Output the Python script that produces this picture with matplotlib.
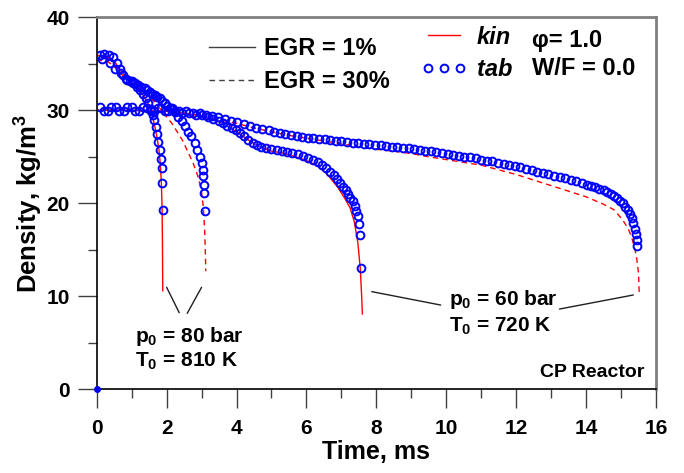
import matplotlib
matplotlib.use("Agg")
import matplotlib.pyplot as plt
from matplotlib.lines import Line2D
from matplotlib.ticker import MultipleLocator

plt.rcParams['font.family'] = ['Liberation Sans', 'DejaVu Sans']
plt.rcParams['font.weight'] = 'bold'
plt.rcParams['mathtext.fontset'] = 'custom'
plt.rcParams['mathtext.rm'] = 'Liberation Sans:bold'
plt.rcParams['mathtext.bf'] = 'Liberation Sans:bold'
plt.rcParams['mathtext.it'] = 'Liberation Sans:bold:italic'

# ---------------- data ----------------
# p0 = 80 bar, T0 = 810 K, EGR = 1 %  (kin: solid red, tab: circles)
kin80_1_t = [0, 0.3, 0.5, 0.7, 0.9, 1.1, 1.3, 1.45, 1.55, 1.65, 1.72, 1.78, 1.82, 1.85, 1.87, 1.88, 1.89]
kin80_1_v = [35.9, 35.8, 35.3, 34.2, 33.3, 32.6, 31.8, 30.9, 29.9, 28.5, 27.2, 25.8, 24.2, 22.2, 19.5, 16.0, 10.6]
tab80_1_t = [0.10, 0.22, 0.34, 0.46, 0.57, 0.67, 0.76, 0.86, 0.95, 1.05, 1.14, 1.24, 1.33, 1.41, 1.47,
             1.54, 1.60, 1.65, 1.69, 1.73, 1.76, 1.81, 1.84, 1.86, 1.87, 1.89]
tab80_1_v = [35.95, 36.0, 35.9, 35.75, 35.1, 34.4, 33.8, 33.3, 33.1, 32.9, 32.5, 32.2, 31.8, 31.3, 30.75,
             30.1, 29.5, 29.0, 28.2, 27.5, 26.6, 25.7, 24.8, 23.8, 22.2, 19.3]

# p0 = 80 bar, T0 = 810 K, EGR = 30 %  (kin: dashed red)
kin80_30_t = [0, 0.3, 0.5, 0.7, 0.9, 1.1, 1.3, 1.5, 1.7, 1.85, 2.0, 2.15, 2.3, 2.45, 2.6, 2.75,
              2.85, 2.92, 3.0, 3.05, 3.09, 3.11, 3.12]
kin80_30_v = [35.4, 35.3, 34.7, 33.9, 33.2, 32.7, 32.1, 31.5, 30.7, 30.0, 29.3, 28.6, 27.7, 26.8, 25.6, 24.4,
              23.4, 22.6, 21.2, 19.6, 17.0, 14.5, 12.7]
tab80_30_t = [0.16, 0.38, 0.52, 0.69, 0.84, 1.0, 1.10, 1.19, 1.28, 1.38, 1.45, 1.52, 1.59, 1.66, 1.73, 1.81,
              1.88, 1.95, 2.02, 2.09, 2.17, 2.24, 2.33, 2.43, 2.52, 2.62, 2.71, 2.81, 2.87, 2.95,
              3.0, 3.03, 3.05, 3.07, 3.08, 3.09]
tab80_30_v = [35.5, 35.05, 34.4, 34.0, 33.4, 33.1, 32.9, 32.7, 32.55, 32.4, 32.2, 32.0, 31.8, 31.6, 31.45, 31.3,
              31.0, 30.75, 30.5, 30.3, 30.1, 29.85, 29.3, 28.8, 28.3, 27.7, 27.2, 26.5, 25.7, 25.0,
              24.3, 23.6, 22.9, 22.0, 21.1, 19.2]

# p0 = 60 bar, T0 = 720 K, EGR = 1 %
kin60_1_t = [0, 1, 2, 2.5, 3, 3.5, 4, 4.3, 4.6, 5.0, 5.33, 5.7, 6.0, 6.29, 6.6, 6.9, 7.1, 7.25,
             7.37, 7.47, 7.54, 7.58, 7.6]
kin60_1_v = [30.0, 30.0, 29.9, 29.7, 29.4, 28.8, 27.7, 26.9, 26.2, 25.6, 25.4, 25.0, 24.6, 24.1, 23.1, 21.7, 20.5, 19.5,
             18.0, 15.8, 13.0, 10.0, 8.1]
tab60_1_t = [0.10, 0.32, 0.55, 0.78, 1.00, 1.22, 1.44, 1.65, 1.85, 2.05, 2.25, 2.45, 2.65, 2.85, 3.02,
             3.18, 3.34, 3.50, 3.62, 3.74, 3.86, 3.98, 4.10, 4.22, 4.34, 4.46, 4.58, 4.70, 4.85,
             5.00, 5.15, 5.30, 5.45, 5.60, 5.75, 5.90, 6.05, 6.20, 6.33, 6.45, 6.57, 6.68, 6.78,
             6.88, 6.97, 7.05, 7.12, 7.19, 7.26, 7.33, 7.39, 7.43, 7.47, 7.50, 7.54, 7.57]
tab60_1_v = [30.35, 29.95, 30.35, 29.95, 30.35, 29.95, 30.3, 29.95, 30.2, 29.9, 29.95, 29.75, 29.7, 29.5, 29.45,
             29.25, 29.1, 28.85, 28.6, 28.35, 28.1, 27.85, 27.6, 27.25, 26.85, 26.5, 26.25, 26.05, 25.9,
             25.8, 25.7, 25.6, 25.55, 25.4, 25.25, 25.1, 24.9, 24.65, 24.4, 24.1, 23.8, 23.4, 23.0,
             22.6, 22.2, 21.8, 21.4, 21.0, 20.6, 20.2, 19.7, 19.2, 18.6, 17.8, 16.6, 13.0]

# p0 = 60 bar, T0 = 720 K, EGR = 30 %
kin60_30_t = [0, 1, 2, 2.5, 3, 3.5, 4, 4.5, 5, 5.5, 6, 6.5, 7, 7.5, 8, 8.5, 9, 9.5, 10, 10.5, 11,
              11.5, 12, 12.5, 13, 13.5, 14, 14.5, 14.8, 15.05, 15.2, 15.3, 15.4, 15.45, 15.5, 15.52]
kin60_30_v = [30.0, 30.0, 29.9, 29.7, 29.4, 29.0, 28.6, 28.1, 27.7, 27.3, 27.0, 26.7, 26.4, 26.1, 25.8, 25.6,
              25.35, 25.0, 24.7, 24.4, 24.1, 23.6, 23.1, 22.5, 21.9, 21.3, 20.7, 19.9, 19.3, 18.2, 17.3,
              16.4, 15.0, 14.0, 12.5, 10.3]
tab60_30_t = [0.20, 0.42, 0.65, 0.88, 1.10, 1.33, 1.55, 1.75, 1.95, 2.15, 2.35, 2.55, 2.75, 2.95, 3.12,
              3.30, 3.48, 3.66, 3.84, 4.02, 4.20, 4.38, 4.56, 4.74, 4.92, 5.08, 5.24, 5.40, 5.56,
              5.72, 5.88, 6.04, 6.20, 6.36, 6.52, 6.68, 6.84, 7.00, 7.16, 7.32, 7.48, 7.64, 7.80,
              7.96, 8.12, 8.28, 8.44, 8.60, 8.76, 8.92, 9.08, 9.24, 9.40, 9.56, 9.72, 9.88, 10.04,
              10.20, 10.36, 10.52, 10.68, 10.84, 11.00, 11.16, 11.32, 11.48, 11.64, 11.80, 11.96,
              12.12, 12.28, 12.44, 12.60, 12.76, 12.92, 13.08, 13.24, 13.40, 13.56, 13.72, 13.88,
              14.02, 14.14, 14.26, 14.38, 14.50, 14.61, 14.71, 14.80, 14.89, 14.97, 15.05, 15.12,
              15.19, 15.25, 15.30, 15.35, 15.39, 15.42, 15.45, 15.47]
tab60_30_v = [29.95, 30.35, 29.95, 30.35, 29.95, 30.35, 29.95, 30.3, 29.95, 30.2, 29.9, 29.95, 29.75, 29.7, 29.5,
              29.4, 29.25, 29.1, 28.9, 28.7, 28.5, 28.3, 28.15, 28.0, 27.85, 27.7, 27.55, 27.42, 27.3,
              27.2, 27.12, 27.05, 27.0, 26.95, 26.88, 26.82, 26.75, 26.66, 26.6, 26.52, 26.46, 26.4, 26.34,
              26.28, 26.22, 26.15, 26.08, 26.02, 25.96, 25.9, 25.82, 25.75, 25.67, 25.58, 25.5, 25.4, 25.32,
              25.23, 25.13, 25.03, 24.93, 24.82, 24.7, 24.6, 24.5, 24.38, 24.26, 24.14, 24.0,
              23.86, 23.72, 23.56, 23.4, 23.26, 23.12, 22.98, 22.84, 22.68, 22.52, 22.36, 22.2,
              22.02, 21.88, 21.72, 21.56, 21.4, 21.2, 21.0, 20.8, 20.56, 20.3, 20.0, 19.65,
              19.25, 18.85, 18.4, 17.85, 17.25, 16.65, 16.0, 15.4]

origin_t = [0.0]
origin_v = [0.0]

x_ticks = [0, 2, 4, 6, 8, 10, 12, 14, 16]
y_ticks = [0, 10, 20, 30, 40]

# ---------------- figure ----------------
W, H = 684, 473
fig = plt.figure(figsize=(W / 100, H / 100), dpi=100)
ax = fig.add_axes([96.7 / W, 1 - 389.3 / H, (656 - 96.7) / W, (389.3 - 17.3) / H])

red = '#FF0000'
blue = '#0000FF'
mk = dict(ls='none', marker='o', ms=5.6, mfc='none', mec=blue, mew=1.4)

ax.plot(kin80_1_t, kin80_1_v, color=red, lw=1.0, zorder=2)
ax.plot(kin80_30_t, kin80_30_v, color=red, lw=1.0, ls=(0, (4, 3)), zorder=2)
ax.plot(kin60_1_t, kin60_1_v, color=red, lw=1.0, zorder=2)
ax.plot(kin60_30_t, kin60_30_v, color=red, lw=1.0, ls=(0, (4, 3)), zorder=2)
for tt, vv in [(tab80_1_t, tab80_1_v), (tab80_30_t, tab80_30_v),
               (tab60_1_t, tab60_1_v), (tab60_30_t, tab60_30_v)]:
    ax.plot(tt, vv, zorder=3, **mk)
ax.plot(origin_t, origin_v, ls='none', marker='o', ms=4, color=blue, clip_on=False, zorder=5)

ax.set_xlim(0, 16)
ax.set_ylim(0, 40)
ax.set_xticks(x_ticks)
ax.set_yticks(y_ticks)
ax.xaxis.set_minor_locator(MultipleLocator(1))
ax.yaxis.set_minor_locator(MultipleLocator(5))
ax.tick_params(which='major', direction='out', length=13.5, width=1.0, color='#404040',
               labelsize=15, pad=6)
ax.tick_params(which='minor', direction='out', length=6.8, width=1.0, color='#404040')
ax.tick_params(axis='x', which='major', pad=8)
for lab in ax.get_xticklabels() + ax.get_yticklabels():
    lab.set_fontweight('bold')

for s in ['left', 'bottom']:
    ax.spines[s].set_color('black')
    ax.spines[s].set_linewidth(1.2)
for s in ['top', 'right']:
    ax.spines[s].set_color('#808080')
    ax.spines[s].set_linewidth(2.0)

ax.set_xlabel('Time, ms', fontsize=18, fontweight='bold', labelpad=1)
ax.set_ylabel(r'Density, kg/m$^3$', fontsize=18.5, fontweight='bold', labelpad=1)

# annotations
line_kw = dict(arrowstyle='-', color='#202020', lw=1.0, shrinkA=0, shrinkB=0)
ax.annotate('', xy=(2.36, 8.24), xytext=(2.0, 10.97), arrowprops=line_kw)
ax.annotate('', xy=(2.59, 8.17), xytext=(3.0, 10.97), arrowprops=line_kw)
ax.annotate('', xy=(9.84, 9.06), xytext=(7.87, 10.5), arrowprops=line_kw)
ax.annotate('', xy=(13.24, 8.63), xytext=(15.35, 10.14), arrowprops=line_kw)
ax.text(1.10, 5.12, r'p$_{\mathbf{0}}$ = 80 bar', fontsize=15, fontweight='bold', va='baseline')
ax.text(1.10, 2.40, r'T$_{\mathbf{0}}$ = 810 K', fontsize=15, fontweight='bold', va='baseline')
ax.text(10.09, 9.06, r'p$_{\mathbf{0}}$ = 60 bar', fontsize=15, fontweight='bold', va='baseline')
ax.text(10.09, 6.20, r'T$_{\mathbf{0}}$ = 720 K', fontsize=15, fontweight='bold', va='baseline')
ax.text(15.66, 1.32, 'CP Reactor', fontsize=14, fontweight='bold', va='baseline', ha='right')

# legends
h1 = [Line2D([], [], color='#404040', lw=1.0), Line2D([], [], color='#404040', lw=1.0, ls=(0, (4, 3)))]
leg1 = fig.legend(h1, ['EGR = 1%', 'EGR = 30%'], loc='upper left',
                  bbox_to_anchor=(209 / W, 1 - 37 / H), frameon=False,
                  handlelength=1.95, handletextpad=0.38, labelspacing=0.42,
                  borderpad=0, borderaxespad=0, prop=dict(weight='bold', size=17))
h2 = [Line2D([], [], color=red, lw=1.0), Line2D([], [], **mk)]
leg2 = fig.legend(h2, ['kin', 'tab'], loc='upper left',
                  bbox_to_anchor=(421 / W, 1 - 25.5 / H), frameon=False, numpoints=3,
                  handlelength=1.95, handletextpad=0.42, labelspacing=0.42,
                  borderpad=0, borderaxespad=0,
                  prop=dict(weight='bold', style='italic', size=17))
fig.text(531.7 / W, 1 - 46.7 / H, 'φ= 1.0', fontsize=17, fontweight='bold', va='baseline')
fig.text(531.7 / W, 1 - 75 / H, 'W/F = 0.0', fontsize=17, fontweight='bold', va='baseline')

fig.savefig('out.png', dpi=100)
